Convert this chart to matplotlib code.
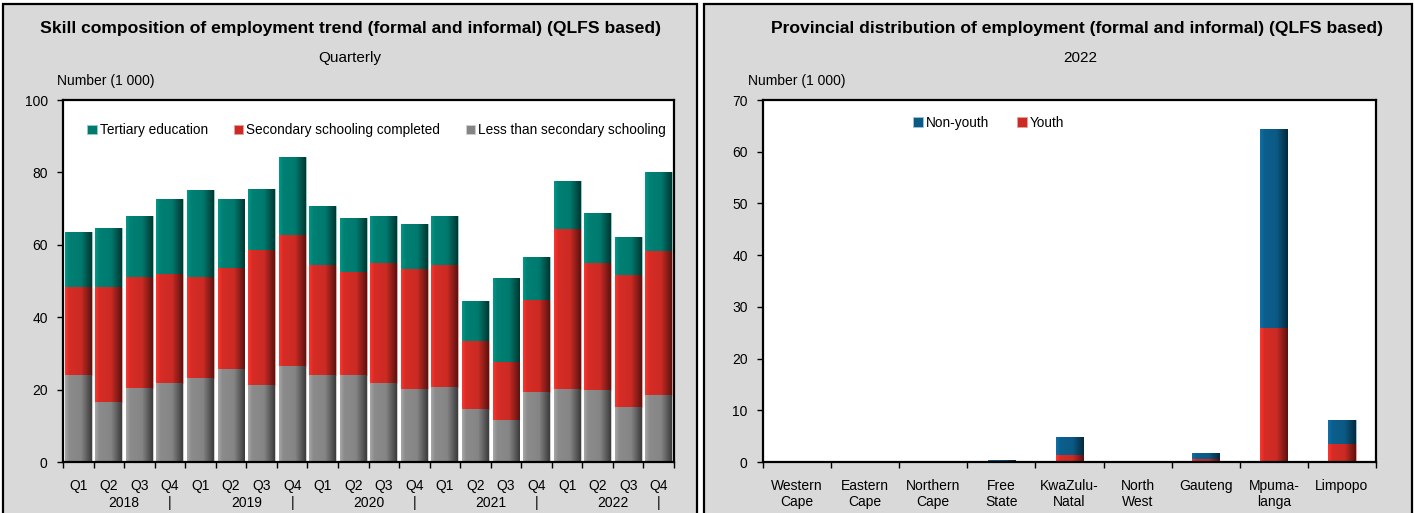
import matplotlib
matplotlib.use("Agg")
import matplotlib.pyplot as plt
import numpy as np
from matplotlib.patches import Rectangle
from matplotlib.colors import to_rgb

plt.rcParams["font.family"] = ["Liberation Sans", "DejaVu Sans"]

# Left chart: skill composition, thousands
quarters = ["Q1", "Q2", "Q3", "Q4"] * 5
years = ["2018", "2019", "2020", "2021", "2022"]
less_than_secondary = [24.0, 16.5, 20.4, 21.7, 23.1, 25.6, 21.3, 26.5, 23.9, 24.0,
                       21.9, 20.3, 20.6, 14.6, 11.6, 19.2, 20.3, 19.9, 15.3, 18.4]
secondary_completed = [24.4, 31.9, 30.8, 30.1, 28.1, 28.1, 37.4, 36.2, 30.5, 28.6,
                       33.2, 33.1, 33.8, 18.7, 15.9, 25.5, 44.2, 35.2, 36.3, 40.0]
tertiary = [15.2, 16.3, 16.8, 20.8, 23.9, 18.9, 16.8, 21.5, 16.4, 14.7,
            12.9, 12.4, 13.6, 11.3, 23.3, 11.8, 13.2, 13.7, 10.6, 21.8]

# Right chart: provincial distribution, thousands
provinces = ["Western\nCape", "Eastern\nCape", "Northern\nCape", "Free\nState",
             "KwaZulu-\nNatal", "North\nWest", "Gauteng", "Mpuma-\nlanga", "Limpopo"]
youth = [0.0, 0.0, 0.0, 0.05, 1.4, 0.0, 0.65, 26.0, 3.4]
non_youth = [0.0, 0.0, 0.0, 0.25, 3.5, 0.0, 1.05, 38.4, 4.7]

TEAL = "#007a6e"
RED = "#cc2a24"
GREY = "#858585"
BLUE = "#0b5a86"
PANEL = "#d9d9d9"

W, H = 1415, 513
fig = plt.figure(figsize=(W / 100, H / 100), dpi=100)
fig.patch.set_facecolor("white")


def fx(px):
    return px / W


def fy(py):
    return 1 - py / H


def shade(ax, bars, color):
    """Overlay a horizontal light-to-dark gradient on each bar."""
    r, g, b = to_rgb(color)
    t = np.linspace(0, 1, 64)
    f = np.interp(t, [0, 0.15, 0.6, 1], [1.25, 1.05, 1.0, 0.45])
    grad = np.clip(np.stack([np.outer(np.ones(2), f * c) for c in (r, g, b)], axis=-1), 0, 1)
    for p in bars:
        x0, y0 = p.get_x(), p.get_y()
        w, h = p.get_width(), p.get_height()
        if h <= 0:
            continue
        im = ax.imshow(grad, extent=(x0, x0 + w, y0, y0 + h), aspect="auto",
                       interpolation="bilinear", zorder=p.get_zorder() + 0.1)
        im.set_clip_path(p)


def style_axes(ax):
    for s in ax.spines.values():
        s.set_linewidth(1.6)
        s.set_color("black")
    ax.tick_params(axis="y", direction="out", length=4, width=1, labelsize=10, pad=7)
    ax.tick_params(axis="x", which="major", length=0, labelsize=10, pad=12)
    ax.tick_params(axis="x", which="minor", direction="out", length=4, width=1)


# Panel backgrounds
for left, width in ((3, 694), (704, 708)):
    fig.patches.append(Rectangle((fx(left), -0.02), fx(width), 1.02 - 4 / H,
                                 transform=fig.transFigure, facecolor=PANEL,
                                 edgecolor="black", linewidth=1.6, zorder=-10))

# ---- Left chart ----
ax1 = fig.add_axes([fx(63), fy(462), fx(611), (462 - 100) / H])
x = np.arange(len(quarters))
lts = np.array(less_than_secondary)
sec = np.array(secondary_completed)
ter = np.array(tertiary)
b_g = ax1.bar(x, lts, width=0.88, color=GREY, edgecolor="#d0d0d0", linewidth=0.6,
              label="Less than secondary schooling")
b_r = ax1.bar(x, sec, bottom=lts, width=0.88, color=RED, edgecolor="#e8a09a",
              linewidth=0.6, label="Secondary schooling completed")
b_t = ax1.bar(x, ter, bottom=lts + sec, width=0.88, color=TEAL, edgecolor="#8fd0c8",
              linewidth=0.6, label="Tertiary education")
for bars, c in ((b_g, GREY), (b_r, RED), (b_t, TEAL)):
    shade(ax1, bars, c)
ax1.set_xlim(-0.5, len(quarters) - 0.5)
ax1.set_ylim(0, 100)
ax1.set_yticks(range(0, 101, 20))
ax1.set_xticks(x)
ax1.set_xticklabels(quarters)
ax1.set_xticks(np.arange(-0.5, len(quarters), 1), minor=True)
style_axes(ax1)
for i, yr in enumerate(years):
    ax1.text(4 * i + 1.5, -0.113, yr, transform=ax1.get_xaxis_transform(),
             ha="center", va="center", fontsize=10)
    ax1.text(4 * i + 3, -0.113, "|", transform=ax1.get_xaxis_transform(),
             ha="center", va="center", fontsize=10)
handles = [b_t, b_r, b_g]
ax1.legend(handles, [h.get_label() for h in handles], ncol=3, frameon=False,
           loc="upper left", bbox_to_anchor=(0.02, 0.97), fontsize=9.8,
           handlelength=0.7, handleheight=0.7, handletextpad=0.2, columnspacing=1.9)

# ---- Right chart ----
ax2 = fig.add_axes([fx(763), fy(462), fx(613), (462 - 100) / H])
xp = np.arange(len(provinces))
yo = np.array(youth)
ny = np.array(non_youth)
b_y = ax2.bar(xp, yo, width=0.4, color=RED, edgecolor="#e8a09a", linewidth=0.6,
              label="Youth")
b_n = ax2.bar(xp, ny, bottom=yo, width=0.4, color=BLUE, edgecolor="#9cc3da",
              linewidth=0.6, label="Non-youth")
shade(ax2, b_y, RED)
shade(ax2, b_n, BLUE)
ax2.set_xlim(-0.5, len(provinces) - 0.5)
ax2.set_ylim(0, 70)
ax2.set_yticks(range(0, 71, 10))
ax2.set_xticks(xp)
ax2.set_xticklabels(provinces, linespacing=1.25)
ax2.set_xticks(np.arange(-0.5, len(provinces), 1), minor=True)
style_axes(ax2)
ax2.legend([b_n, b_y], ["Non-youth", "Youth"], ncol=2, frameon=False,
           loc="upper left", bbox_to_anchor=(0.225, 0.99), fontsize=9.8,
           handlelength=0.7, handleheight=0.7, handletextpad=0.2, columnspacing=2.1)

# Titles and labels
fig.text(fx(350), fy(28), "Skill composition of employment trend (formal and informal) (QLFS based)",
         ha="center", va="center", fontsize=12.6, fontweight="bold")
fig.text(fx(350), fy(58), "Quarterly", ha="center", va="center", fontsize=11)
fig.text(fx(57), fy(81), "Number (1 000)", ha="left", va="center", fontsize=10)

fig.text(fx(1077), fy(28), "Provincial distribution of employment (formal and informal) (QLFS based)",
         ha="center", va="center", fontsize=12.6, fontweight="bold")
fig.text(fx(1080), fy(58), "2022", ha="center", va="center", fontsize=11)
fig.text(fx(748), fy(81), "Number (1 000)", ha="left", va="center", fontsize=10)

fig.savefig("out.png", dpi=100, facecolor=fig.get_facecolor())
